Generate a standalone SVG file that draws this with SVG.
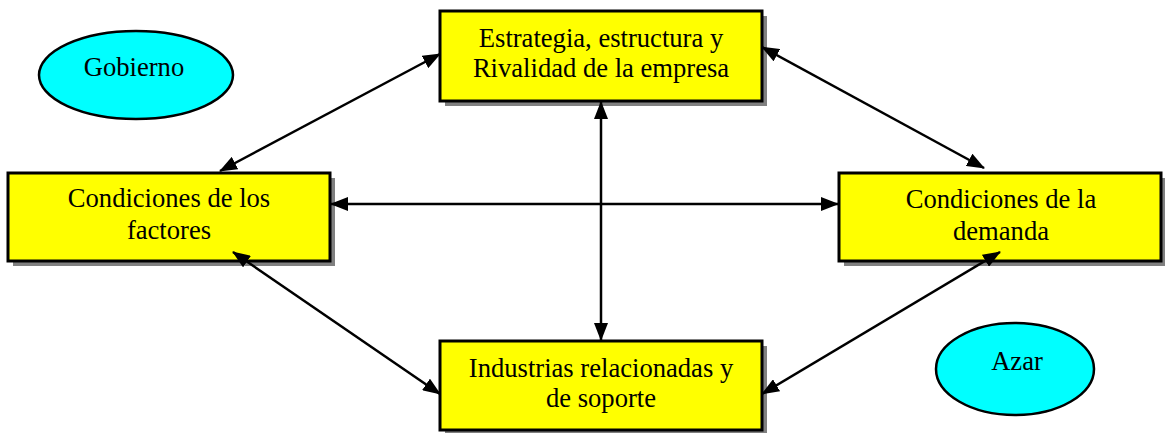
<svg xmlns="http://www.w3.org/2000/svg" width="1165" height="433" viewBox="0 0 1165 433">
<style>
.box{fill:#ffff00;stroke:#000;stroke-width:3}
.shadow{fill:#808080}
.ell{fill:#00ffff;stroke:#000;stroke-width:2.5}
.t{font-family:"Liberation Serif","Times New Roman",serif;font-size:26.6px;fill:#000;text-anchor:middle}
.c{stroke:#000;stroke-width:2.5;fill:none;marker-start:url(#ah);marker-end:url(#ah)}
</style>
<defs>
<marker id="ah" markerUnits="userSpaceOnUse" markerWidth="18" markerHeight="14" refX="17" refY="7" orient="auto-start-reverse" viewBox="0 0 18 14">
<path d="M0,0 L18,7 L0,14 z" fill="#000"/>
</marker>
</defs>
<rect width="1165" height="433" fill="#fff"/>
<g id="gobierno">
<ellipse class="ell" cx="136" cy="75" rx="97" ry="44"/>
<text class="t" x="134" y="76">Gobierno</text>
</g>
<g id="azar">
<ellipse class="ell" cx="1015" cy="369" rx="79" ry="46"/>
<text class="t" x="1017" y="370">Azar</text>
</g>
<g id="estrategia">
<rect class="shadow" x="445" y="16" width="322" height="90"/>
<rect class="box" x="440" y="11" width="322" height="90"/>
<text class="t" x="601" y="47">Estrategia, estructura y</text>
<text class="t" x="601" y="77">Rivalidad de la empresa</text>
</g>
<g id="factores">
<rect class="shadow" x="13" y="178" width="322" height="88"/>
<rect class="box" x="8" y="173" width="322" height="88"/>
<text class="t" x="169" y="207">Condiciones de los</text>
<text class="t" x="169" y="239">factores</text>
</g>
<g id="demanda">
<rect class="shadow" x="844" y="178" width="322" height="88"/>
<rect class="box" x="839" y="173" width="322" height="88"/>
<text class="t" x="1001" y="208">Condiciones de la</text>
<text class="t" x="1001" y="240">demanda</text>
</g>
<g id="industrias">
<rect class="shadow" x="445" y="346" width="322" height="89"/>
<rect class="box" x="440" y="341" width="322" height="89"/>
<text class="t" x="601" y="377">Industrias relacionadas y</text>
<text class="t" x="601" y="407">de soporte</text>
</g>
<g id="connectors">
<line class="c" x1="440" y1="54" x2="220" y2="171"/>
<line class="c" x1="762" y1="47" x2="984" y2="168"/>
<line class="c" x1="601" y1="102" x2="601" y2="340"/>
<line class="c" x1="331" y1="204" x2="838" y2="204"/>
<line class="c" x1="233" y1="252" x2="440" y2="394"/>
<line class="c" x1="1000" y1="252" x2="762" y2="394"/>
</g>
</svg>
